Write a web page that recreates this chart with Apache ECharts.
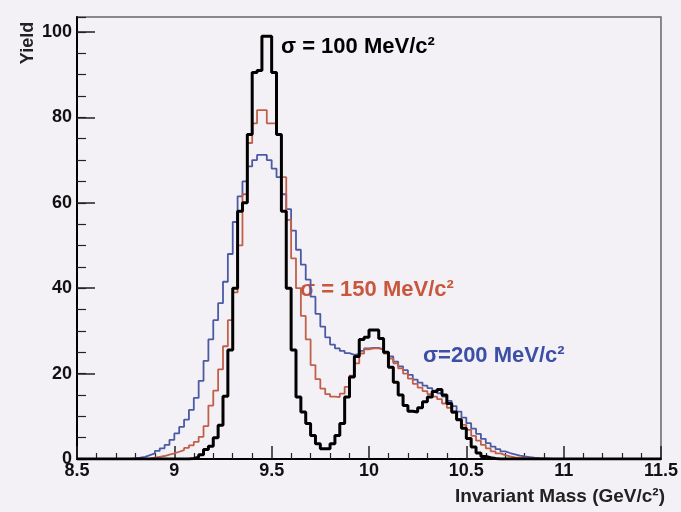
<!DOCTYPE html>
<html>
<head>
<meta charset="utf-8">
<title>Invariant Mass</title>
<script src="https://cdn.jsdelivr.net/npm/echarts@6.0.0/dist/echarts.min.js"></script>
<style>
html, body { margin: 0; padding: 0; background: #f4f1f6; }
#chart { width: 681px; height: 512px; }
</style>
</head>
<body>
<div id="chart"></div>
<script>
//binning of the histograms (GeV/c^2)
var xMin = 8.5;
var xMax = 11.5;

//counts per bin, 0.025 GeV bins from 8.5 to 11.5
var sigma100 = [
    0, 0, 0, 0, 0, 0, 0, 0, 0, 0, 0, 0, 0, 0, 0, 0, 0, 0, 0, 0, 0, 0, 0,
    0.1, 0.4, 1.0, 2.2, 3.0, 5.0, 7.9, 14.7, 25.5, 40, 58, 60, 76, 90.5, 91, 99, 99,
    90.5, 76, 58, 40, 25.5, 14.5, 11, 8.3, 5.5, 3.6, 2.4, 2.4, 3.6, 5.5, 8.3, 14.5,
    19.2, 24, 28, 28.5, 30.2, 30.2, 28.2, 25, 21.5, 18, 15, 12.5, 11.2, 11, 12, 13.4,
    14.5, 15.8, 16.3, 15, 13, 11, 9.2, 7.2, 4.8, 2.8, 1.4, 0.6, 0.3, 0.1,
    0, 0, 0, 0, 0, 0, 0, 0, 0, 0, 0, 0, 0, 0, 0, 0, 0, 0, 0, 0, 0, 0, 0, 0, 0, 0, 0, 0, 0, 0, 0, 0, 0, 0
];
var sigma150 = [
    0, 0, 0, 0, 0, 0, 0, 0, 0, 0, 0, 0, 0, 0,
    0.1, 0.3, 0.5, 0.7, 1.0, 1.3, 1.7, 2.1, 2.6, 3.2, 4.0, 5.2, 7.7, 12.5, 16, 21,
    26.4, 32.5, 39, 50, 62, 74, 78.6, 81.7, 81.7, 78.6, 78.6, 75.9, 66, 56, 47, 40,
    33.5, 28, 22, 18.7, 16.5, 15.2, 14.6, 14.5, 15.3, 16.9, 19.5, 22.4, 24.7, 25.7,
    25.9, 25.9, 25.7, 24.7, 23.5, 22.4, 21.2, 20, 18.8, 17.6, 16.7, 15.9, 15.2, 14.6,
    14.0, 13.0, 12.0, 10.8, 9.4, 8.0, 6.8, 5.4, 4.3, 3.3, 2.5, 1.8, 1.3, 0.9, 0.6,
    0.4, 0.3, 0.2, 0.1, 0.1,
    0, 0, 0, 0, 0, 0, 0, 0, 0, 0, 0, 0, 0, 0, 0, 0, 0, 0, 0, 0, 0, 0, 0, 0, 0, 0
];
var sigma200 = [
    0, 0, 0, 0, 0, 0, 0, 0, 0, 0, 0,
    0.15, 0.3, 0.5, 0.9, 1.3, 1.9, 2.5, 3.3, 4.5, 6, 7.5, 9.2, 11.5, 14.3, 18.3, 23,
    28, 32.5, 36.5, 41.5, 48, 55.5, 61.5, 65, 68.5, 70, 71.2, 71.2, 70, 68, 66, 62,
    58.5, 53.5, 49, 45.5, 42, 38, 34, 31, 28.5, 26.8, 25.9, 25.3, 24.8, 24.4, 24.6,
    25.3, 25.9, 26, 26, 25.6, 24.8, 24, 22.8, 21.7, 20.8, 19.7, 18.6, 17.9, 17.2,
    16.6, 16.0, 15.4, 14.6, 13.6, 12.4, 11.1, 9.7, 8.4, 7.1, 5.9, 4.7, 3.7, 2.9, 2.3,
    1.8, 1.4, 1.1, 0.8, 0.6, 0.45, 0.3, 0.2, 0.15, 0.1, 0.05,
    0, 0, 0, 0, 0, 0, 0, 0, 0, 0, 0, 0, 0, 0, 0, 0, 0, 0, 0, 0, 0, 0
];

//series names and colours
var seriesNames = ["σ = 100 MeV/c²", "σ = 150 MeV/c²", "σ=200 MeV/c²"];
var seriesColors = ["#000000", "#c0604a", "#4b5aa5"];

//turn bin counts into step points (left edge of each bin + last right edge)
function histPoints(counts) {
    var w = (xMax - xMin) / counts.length;
    var pts = [];
    for (var i = 0; i < counts.length; i++) {
        pts.push([xMin + i * w, counts[i]]);
    }
    pts.push([xMax, counts[counts.length - 1]]);
    return pts;
}

var font = "Liberation Sans, Arial, sans-serif";
var chart = echarts.init(document.getElementById("chart"), null, { renderer: "canvas" });

var option = {
    backgroundColor: "#f4f1f6",
    animation: false,
    grid: {
        left: 77,
        right: 16,
        top: 17,
        bottom: 53,
        show: true,
        borderColor: "#666",
        borderWidth: 1.5,
        backgroundColor: "transparent"
    },
    xAxis: {
        type: "value",
        min: xMin,
        max: xMax,
        interval: 0.5,
        axisLine: { lineStyle: { color: "#000", width: 2 } },
        axisTick: { inside: true, length: 13, lineStyle: { color: "#222", width: 1.5 } },
        minorTick: { show: true, splitNumber: 5, length: 6, lineStyle: { color: "#222", width: 1.2 } },
        splitLine: { show: false },
        axisLabel: { margin: 3, fontSize: 18, fontWeight: "bold", color: "#111", fontFamily: font }
    },
    yAxis: [
        {
            type: "value",
            position: "left",
            min: 0,
            max: 103.5,
            interval: 20,
            axisLine: { show: true, lineStyle: { color: "#000", width: 2 } },
            axisTick: { show: true, inside: true, length: 18, lineStyle: { color: "#222", width: 1.5 } },
            splitLine: { show: false },
            axisLabel: { margin: 5, fontSize: 18, fontWeight: "bold", color: "#111", fontFamily: font, showMaxLabel: false }
        },
        {
            //minor ticks every 5
            type: "value",
            position: "left",
            offset: 0,
            min: 0,
            max: 103.5,
            interval: 5,
            axisLine: { show: false },
            axisTick: { show: true, inside: true, length: 9, lineStyle: { color: "#222", width: 1.2 } },
            splitLine: { show: false },
            axisLabel: { show: false }
        }
    ],
    graphic: [
        {
            type: "text", x: 28, y: 43, rotation: Math.PI / 2,
            style: { text: "Yield", font: "bold 18px " + font, fill: "#222", align: "center", verticalAlign: "middle" }
        },
        {
            type: "text", x: 665, y: 497,
            style: { text: "Invariant Mass (GeV/c²)", font: "bold 19px " + font, fill: "#222", align: "right", verticalAlign: "middle" }
        },
        {
            type: "text", x: 281, y: 47,
            style: { text: seriesNames[0], font: "bold 22px " + font, fill: "#000", align: "left", verticalAlign: "middle" }
        },
        {
            type: "text", x: 300, y: 290,
            style: { text: seriesNames[1], font: "bold 22px " + font, fill: "#c8573e", align: "left", verticalAlign: "middle" }
        },
        {
            type: "text", x: 423, y: 356,
            style: { text: seriesNames[2], font: "bold 22px " + font, fill: "#3c4fa6", align: "left", verticalAlign: "middle" }
        }
    ],
    series: [
        {
            name: seriesNames[2],
            type: "line",
            step: "end",
            symbol: "none",
            data: histPoints(sigma200),
            lineStyle: { color: seriesColors[2], width: 1.8 },
            z: 2
        },
        {
            name: seriesNames[1],
            type: "line",
            step: "end",
            symbol: "none",
            data: histPoints(sigma150),
            lineStyle: { color: seriesColors[1], width: 1.8 },
            z: 3
        },
        {
            name: seriesNames[0],
            type: "line",
            step: "end",
            symbol: "none",
            data: histPoints(sigma100),
            lineStyle: { color: seriesColors[0], width: 3 },
            z: 4
        }
    ]
};

chart.setOption(option);
</script>
</body>
</html>
